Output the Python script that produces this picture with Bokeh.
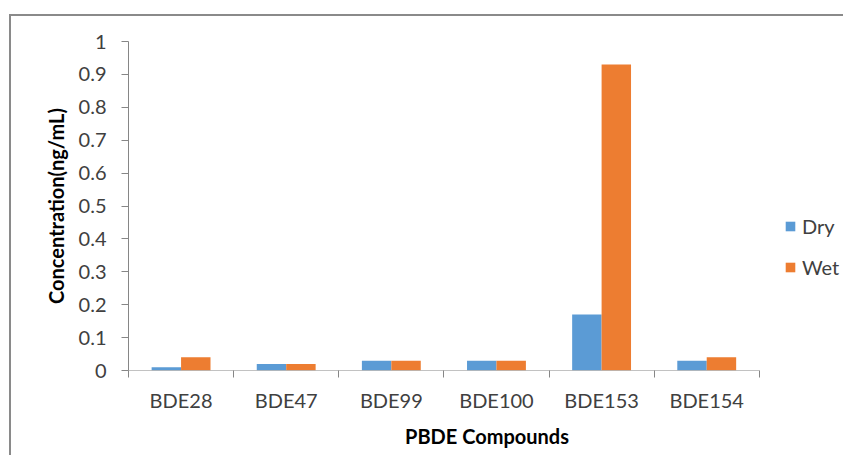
from bokeh.plotting import figure
from bokeh.models import (FixedTicker, Legend, LegendItem, ColumnDataSource,
                          Range1d)
from bokeh.embed import file_html
from bokeh.resources import INLINE

compounds = ["BDE28", "BDE47", "BDE99", "BDE100", "BDE153", "BDE154"]
dry = [0.01, 0.02, 0.03, 0.03, 0.17, 0.03]
wet = [0.04, 0.02, 0.03, 0.03, 0.93, 0.04]
y_ticks = [0, 0.1, 0.2, 0.3, 0.4, 0.5, 0.6, 0.7, 0.8, 0.9, 1]
y_tick_labels = ["0", "0.1", "0.2", "0.3", "0.4", "0.5", "0.6", "0.7", "0.8", "0.9", "1"]

FONT = "Lato"
BAR_W = 0.28
N = len(compounds)
centers = [i + 0.5 for i in range(N)]
src = ColumnDataSource(dict(
    xd=[c - BAR_W / 2 for c in centers],
    xw=[c + BAR_W / 2 for c in centers],
    dry=dry, wet=wet,
))

W, H = 834, 441
p = figure(width=W, height=H, output_backend="svg", toolbar_location=None,
           x_range=Range1d(0, 6.82), y_range=Range1d(0, 1),
           min_border_left=117, min_border_top=25, min_border_bottom=87,
           min_border_right=0)
p.styles = {"border-top": "2px solid #8a8a8a", "border-left": "2px solid #8a8a8a",
            "margin-top": "14px", "margin-left": "9px"}
p.outline_line_color = None
p.grid.grid_line_color = None
p.background_fill_color = "white"
p.border_fill_color = "white"

AX = "#868686"
r_dry = p.vbar(x="xd", top="dry", width=BAR_W, source=src,
               fill_color="#5B9BD5", line_color=None)
r_wet = p.vbar(x="xw", top="wet", width=BAR_W, source=src,
               fill_color="#ED7D31", line_color=None)
# x axis line spanning only the categories
p.segment(x0=[0], x1=[N], y0=[0], y1=[0], line_color=AX, line_width=1)

# x axis
xa = p.xaxis[0]
xa.ticker = FixedTicker(ticks=centers, minor_ticks=list(range(N + 1)))
xa.major_label_overrides = {c: n for c, n in zip(centers, compounds)}
xa.major_tick_line_color = None
xa.minor_tick_line_color = AX
xa.minor_tick_out = 7
xa.minor_tick_in = 0
xa.axis_line_color = None
xa.major_label_text_font = FONT
xa.major_label_text_font_size = "20px"
xa.major_label_text_color = "#404040"
xa.major_label_standoff = 10
xa.axis_label = "PBDE Compounds"
xa.axis_label_text_font = FONT
xa.axis_label_text_font_style = "bold"
xa.axis_label_text_font_size = "20px"
xa.axis_label_text_color = "#000000"
xa.axis_label_standoff = 9

# y axis
ya = p.yaxis[0]
ya.ticker = FixedTicker(ticks=y_ticks, minor_ticks=[])
ya.major_label_overrides = {t: l for t, l in zip(y_ticks, y_tick_labels)}
ya.major_tick_line_color = AX
ya.major_tick_out = 7
ya.major_tick_in = 0
ya.minor_tick_line_color = None
ya.axis_line_color = AX
ya.major_label_text_font = FONT
ya.major_label_text_font_size = "20px"
ya.major_label_text_color = "#404040"
ya.major_label_standoff = 15
ya.axis_label = "Concentration(ng/mL)"
ya.axis_label_text_font = FONT
ya.axis_label_text_font_style = "bold"
ya.axis_label_text_font_size = "20px"
ya.axis_label_text_color = "#000000"
ya.axis_label_standoff = 8

legend = Legend(items=[LegendItem(label="Dry", renderers=[r_dry]),
                       LegendItem(label="Wet", renderers=[r_wet])],
                location=(656, 91), orientation="vertical",
                glyph_width=12, glyph_height=12, label_standoff=6,
                label_height=20, spacing=17, padding=0, margin=0,
                label_text_font=FONT, label_text_font_size="20px",
                label_text_color="#404040", border_line_color=None,
                background_fill_alpha=0)
p.add_layout(legend, "center")

open("out.html", "w").write(file_html(p, INLINE))
